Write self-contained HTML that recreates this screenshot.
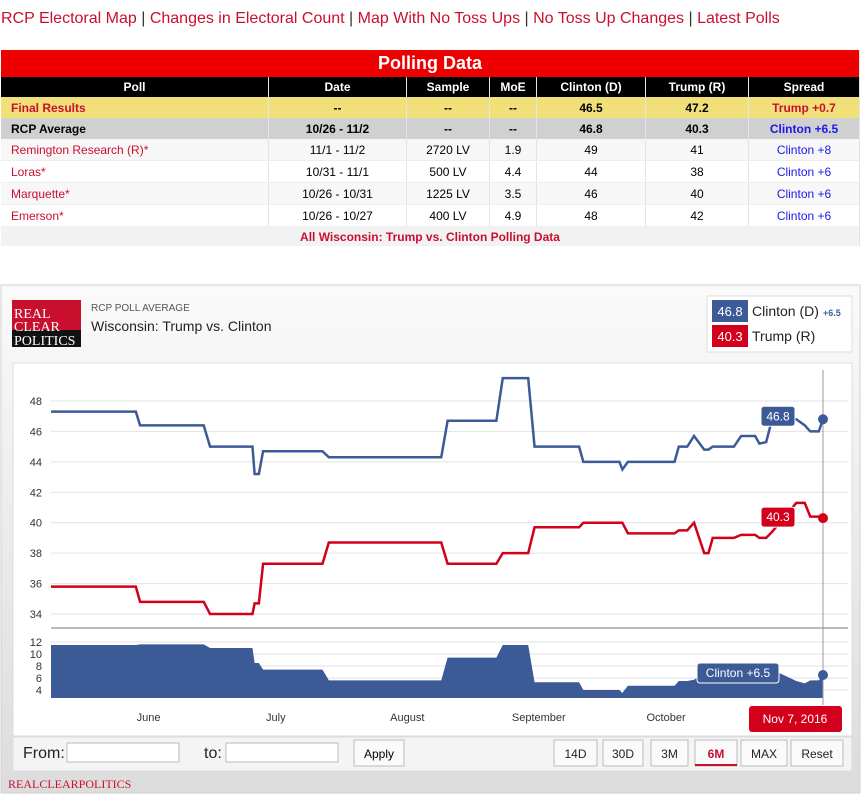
<!DOCTYPE html>
<html><head><meta charset="utf-8">
<style>
body{margin:0;width:867px;height:810px;background:#fff;font-family:"Liberation Sans",sans-serif;position:relative;overflow:hidden}
.nav{position:absolute;left:1px;top:10px;font-size:16px;color:#333;white-space:nowrap}
.nav a{color:#c8102e;text-decoration:none}
table{position:absolute;left:1px;top:50px;width:859px;border-collapse:collapse;font-size:12px}
td,th{text-align:center;height:21px;padding:0;border-right:1px solid #e4e4e4}
.title{background:#e00;color:#fff;font-size:18px;font-weight:bold;height:27px}
th{background:#000;color:#fff;font-weight:bold;height:20px}
.fin{background:#f1e07a;font-weight:bold}
.avg{background:#d0d0d0;font-weight:bold}
tr.p td{background:#fff;border-bottom:1px solid #eee}
tr.p:nth-child(odd) td{background:#f7f7f7}
.l{text-align:left;padding-left:10px}
.red{color:#c8102e}.blue{color:#1a1ae6}
.foot td{background:#f2f2f2;color:#c8102e;font-weight:bold;height:19px}
</style></head><body>
<div class="nav"><a>RCP Electoral Map</a> | <a>Changes in Electoral Count</a> | <a>Map With No Toss Ups</a> | <a>No Toss Up Changes</a> | <a>Latest Polls</a></div>
<table>
<tr><td colspan="7" class="title">Polling Data</td></tr>
<tr><th style="width:267px">Poll</th><th style="width:137px">Date</th><th style="width:82px">Sample</th><th style="width:46px">MoE</th><th style="width:108px">Clinton (D)</th><th style="width:102px">Trump (R)</th><th>Spread</th></tr>
<tr class="fin"><td class="l red">Final Results</td><td>--</td><td>--</td><td>--</td><td>46.5</td><td>47.2</td><td class="red">Trump +0.7</td></tr>
<tr class="avg"><td class="l">RCP Average</td><td>10/26 - 11/2</td><td>--</td><td>--</td><td>46.8</td><td>40.3</td><td class="blue">Clinton +6.5</td></tr>
<tr class="p"><td class="l red">Remington Research (R)*</td><td>11/1 - 11/2</td><td>2720 LV</td><td>1.9</td><td>49</td><td>41</td><td class="blue">Clinton +8</td></tr>
<tr class="p"><td class="l red">Loras*</td><td>10/31 - 11/1</td><td>500 LV</td><td>4.4</td><td>44</td><td>38</td><td class="blue">Clinton +6</td></tr>
<tr class="p"><td class="l red">Marquette*</td><td>10/26 - 10/31</td><td>1225 LV</td><td>3.5</td><td>46</td><td>40</td><td class="blue">Clinton +6</td></tr>
<tr class="p"><td class="l red">Emerson*</td><td>10/26 - 10/27</td><td>400 LV</td><td>4.9</td><td>48</td><td>42</td><td class="blue">Clinton +6</td></tr>
<tr class="foot"><td colspan="7">All Wisconsin: Trump vs. Clinton Polling Data</td></tr>
</table>

<svg id="chart" width="867" height="810" style="position:absolute;left:0;top:0" font-family="Liberation Sans, sans-serif">
<defs><linearGradient id="bg" x1="0" y1="0" x2="0" y2="1"><stop offset="0" stop-color="#fafafa"/><stop offset="1" stop-color="#dcdcdc"/></linearGradient></defs>
<rect x="1" y="285" width="859" height="508" fill="url(#bg)" stroke="#d0d0d0"/>
<rect x="12" y="300" width="69" height="47" fill="#c8102e"/>
<rect x="12" y="330" width="69" height="17" fill="#111"/>
<text x="14" y="318" font-family="Liberation Serif, serif" font-size="14" fill="#fff">REAL</text>
<text x="14" y="331" font-family="Liberation Serif, serif" font-size="14" fill="#fff">CLEAR</text>
<text x="14" y="345" font-family="Liberation Serif, serif" font-size="14" fill="#fff">POLITICS</text>
<text x="91" y="311" font-size="10" fill="#555">RCP POLL AVERAGE</text>
<text x="91" y="331" font-size="14" fill="#222">Wisconsin: Trump vs. Clinton</text>
<rect x="707" y="296" width="145" height="56" fill="#fff" stroke="#ddd"/>
<rect x="712" y="300" width="36" height="22" fill="#3b5a96"/><text x="730" y="316" font-size="13" fill="#fff" text-anchor="middle">46.8</text>
<text x="752" y="316" font-size="14" fill="#222">Clinton (D)</text><text x="823" y="316" font-size="9" fill="#3b5a96" font-weight="bold">+6.5</text>
<rect x="712" y="325" width="36" height="22" fill="#d2001a"/><text x="730" y="341" font-size="13" fill="#fff" text-anchor="middle">40.3</text>
<text x="752" y="341" font-size="14" fill="#222">Trump (R)</text>
<rect x="13" y="363" width="839" height="373" fill="#fff" stroke="#ddd"/>
<g id="grid"></g><g id="marks"></g>
<rect x="13" y="737" width="839" height="34" fill="#f4f4f4" stroke="#ddd"/>
<text x="23" y="758" font-size="16" fill="#222">From:</text>
<rect x="67" y="743" width="112" height="19" fill="#fff" stroke="#bbb"/>
<text x="204" y="758" font-size="16" fill="#222">to:</text>
<rect x="226" y="743" width="112" height="19" fill="#fff" stroke="#bbb"/>
<rect x="354" y="740" width="50" height="26" fill="#fafafa" stroke="#bbb"/><text x="379" y="758" font-size="12" text-anchor="middle">Apply</text>
<g id="btns"></g>
<text x="8" y="788" font-family="Liberation Serif, serif" font-size="12" fill="#c8102e">REALCLEARPOLITICS</text>
</svg>
<script>
const days=[0,20,21,36,37.5,47.5,48,49,50,64,65.5,92,93.5,105,106.5,112.5,114,124.5,125.5,134,134.7,136,147,148,150,151.6,154,155,156,161,162.7,166,167,168.6,170,175.7,177.7,179,181,182];
const clinton=[47.3,47.3,46.4,46.4,45.0,45.0,43.2,43.2,44.7,44.7,44.3,44.3,46.7,46.7,49.5,49.5,45.0,45.0,44.0,44.0,43.5,44.0,44.0,45.0,45.0,45.7,44.8,44.8,45.0,45.0,45.7,45.7,45.2,45.3,46.8,46.8,46.4,46.0,46.0,46.8];
const trump=[35.8,35.8,34.8,34.8,34.0,34.0,34.7,34.7,37.3,37.3,38.7,38.7,37.3,37.3,38.0,38.0,39.7,39.7,40.0,40.0,40.0,39.3,39.3,39.5,39.5,40.0,38.0,38.0,39.0,39.0,39.2,39.2,39.0,39.0,39.4,41.3,41.3,40.4,40.4,40.3];
const yTicks=[34,36,38,40,42,44,46,48];
const sTicks=[4,6,8,10,12];
const months=["June","July","August","September","October"];
const monthDays=[23,53,84,115,145];
const NS="http://www.w3.org/2000/svg";
const X=d=>51+d*(823-51)/182;
const Y=v=>401+(48-v)*(614-401)/14;
const S=v=>642+(12-v)*6;
function mk(tag,attrs,parent,txt){const e=document.createElementNS(NS,tag);for(const k in attrs)e.setAttribute(k,attrs[k]);if(txt!==undefined)e.textContent=txt;parent.appendChild(e);return e;}
const g=document.getElementById('grid'),m=document.getElementById('marks');
yTicks.forEach(v=>{mk('line',{x1:51,x2:848,y1:Y(v),y2:Y(v),stroke:'#e2e2e2'},g);
 const t=mk('text',{x:42,y:Y(v)+4,'font-size':11,fill:'#333','text-anchor':'end'},g,v);
 
 });
sTicks.forEach(v=>{mk('line',{x1:51,x2:848,y1:S(v),y2:S(v),stroke:'#e2e2e2'},g);
 const t=mk('text',{x:42,y:S(v)+4,'font-size':11,fill:'#333','text-anchor':'end'},g,v);
 
 });
mk('line',{x1:51,x2:848,y1:628,y2:628,stroke:'#bbb','stroke-width':2},g);
months.forEach((n,i)=>{const t=mk('text',{x:X(monthDays[i]),y:721,'font-size':11,fill:'#333','text-anchor':'middle'},g,n);
 
 });
let ap='M'+X(days[0])+',698';
days.forEach((d,i)=>{ap+=' L'+X(d)+','+S(clinton[i]-trump[i]);});
ap+=' L'+X(days[days.length-1])+',698 Z';
const area=mk('path',{d:ap,fill:'#3b5a96'},m);


function line(vals,col,name){const p=mk('polyline',{points:days.map((d,i)=>X(d)+','+Y(vals[i])).join(' '),fill:'none',stroke:col,'stroke-width':2.5},m);
 
 }
line(clinton,'#3b5a96','clinton-line');
line(trump,'#d2001a','trump-line');
mk('line',{x1:823,x2:823,y1:370,y2:705,stroke:'#999'},m);
const L=days.length-1;
function lab(x,y,w,col,txt,name){const r=mk('rect',{x:x,y:y,width:w,height:20,rx:3,fill:col,stroke:'#fff'},m);
 
 
 mk('text',{x:x+w/2,y:y+14,'font-size':12,fill:'#fff','text-anchor':'middle'},m,txt);}
lab(761,Y(clinton[L])-13,34,'#3b5a96',clinton[L].toFixed(1),'clinton-tooltip');
lab(761,Y(trump[L])-11,34,'#d2001a',trump[L].toFixed(1),'trump-tooltip');
lab(697,663,82,'#3b5a96','Clinton +'+(clinton[L]-trump[L]).toFixed(1),'spread-tooltip');
[[Y(clinton[L]),'#3b5a96'],[Y(trump[L]),'#d2001a'],[S(clinton[L]-trump[L]),'#3b5a96']].forEach(([y,c])=>mk('circle',{cx:823,cy:y,r:5,fill:c},m));
const dl=mk('rect',{x:749,y:706,width:93,height:26,rx:3,fill:'#d2001a'},m);


mk('text',{x:795,y:723,'font-size':12,fill:'#fff','text-anchor':'middle'},m,'Nov 7, 2016');
const b=document.getElementById('btns');
[['14D',554,43],['30D',603,40],['3M',651,37],['6M',695,42],['MAX',741,46],['Reset',791,52]].forEach(([t,x,w])=>{
 const r=mk('rect',{x:x,y:740,width:w,height:26,fill:'#fafafa',stroke:'#bbb'},b);
 
 
 mk('text',{x:x+w/2,y:758,'font-size':12,'text-anchor':'middle',fill:t==='6M'?'#c8102e':'#222','font-weight':t==='6M'?'bold':'normal'},b,t);
 if(t==='6M')mk('rect',{x:x,y:764,width:w,height:2,fill:'#c8102e'},b);
});
</script>
</body></html>
